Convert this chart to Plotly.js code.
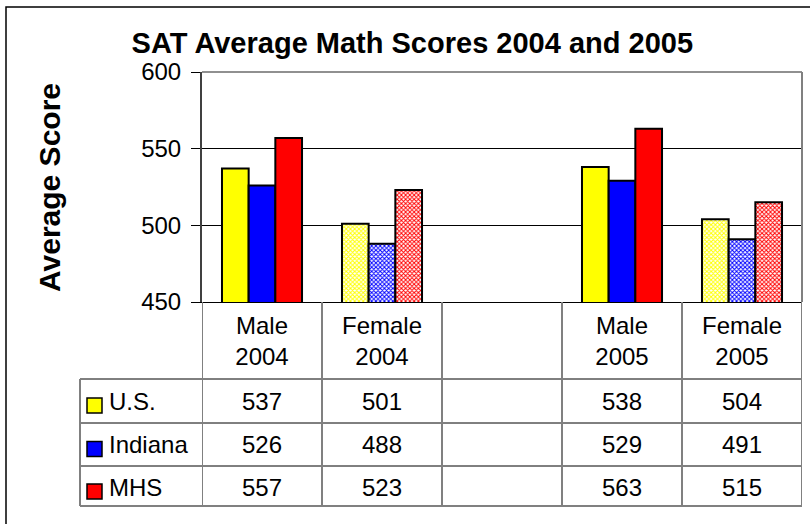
<!DOCTYPE html>
<html>
<head>
<meta charset="utf-8">
<script src="https://cdn.plot.ly/plotly-3.0.1.min.js"></script>
<style>html,body{margin:0;padding:0;background:#fff;}#chart{width:810px;height:524px;}</style>
</head>
<body>
<div id="chart"></div>
<script>
// ---- data ----
var categories = ["Male<br>2004", "Female<br>2004", "", "Male<br>2005", "Female<br>2005"];
var seriesNames = ["U.S.", "Indiana", "MHS"];
var usScores = [537, 501, null, 538, 504];
var indianaScores = [526, 488, null, 529, 491];
var mhsScores = [557, 523, null, 563, 515];
var yTickValues = [450, 500, 550, 600];
var chartTitle = "SAT Average Math Scores 2004 and 2005";
var yAxisTitle = "Average Score";

// ---- styles ----
var seriesColors = ["#FFFF00", "#0000FF", "#FF0000"];
var FONT = "Liberation Sans, Arial, sans-serif";
var W = 810, H = 524;
var L = 202, R = 8, T = 72, B = 222;
var plotW = W - L - R, plotH = H - T - B;
function px2paperX(px) { return (px - L) / plotW; }
function px2paperY(py) { return (H - B - py) / plotH; }

var allSeries = [usScores, indianaScores, mhsScores];
var xIdx = categories.map(function (c, i) { return i; });
var patternShapes = categories.map(function (c) { return c.indexOf("Female") === 0 ? "x" : ""; });

var traces = allSeries.map(function (vals, s) {
  return {
    type: "bar",
    name: seriesNames[s],
    x: xIdx,
    y: vals,
    marker: {
      color: seriesColors[s],
      line: { color: "#000", width: 2 },
      pattern: { shape: patternShapes, fgcolor: seriesColors[s], bgcolor: "#fff", size: 3, solidity: 0.55, fillmode: "replace" }
    },
    hoverinfo: "skip"
  };
});

var shapes = [];
var annotations = [];
// table geometry (pixels)
var rowLines = [379, 423, 466];
var tableBottom = 506;
var tableLeft = 80;
var rowCenters = [401, 444.5, 487];

rowLines.forEach(function (y) {
  shapes.push({ type: "line", xref: "paper", yref: "paper", x0: px2paperX(tableLeft), x1: px2paperX(802), y0: px2paperY(y), y1: px2paperY(y), line: { color: "#000", width: 1 } });
});
shapes.push({ type: "line", xref: "paper", yref: "paper", x0: px2paperX(tableLeft), x1: px2paperX(802), y0: px2paperY(tableBottom), y1: px2paperY(tableBottom), line: { color: "#808080", width: 2 } });
shapes.push({ type: "line", xref: "paper", yref: "paper", x0: px2paperX(tableLeft), x1: px2paperX(tableLeft), y0: px2paperY(rowLines[0]), y1: px2paperY(tableBottom), line: { color: "#808080", width: 2 } });
for (var i = 0; i <= categories.length; i++) {
  shapes.push({ type: "line", xref: "x", yref: "paper", x0: i - 0.5, x1: i - 0.5, y0: 0, y1: px2paperY(tableBottom), line: { color: "#808080", width: 2 } });
}
shapes.push({ type: "line", xref: "paper", yref: "paper", x0: 0, x1: 1, y0: 1, y1: 1, line: { color: "#909090", width: 2 } });
shapes.push({ type: "line", xref: "paper", yref: "paper", x0: 1, x1: 1, y0: 0, y1: 1, line: { color: "#808080", width: 2 } });
shapes.push({ type: "rect", xref: "paper", yref: "paper", x0: px2paperX(6), x1: px2paperX(814), y0: px2paperY(528), y1: px2paperY(7), line: { color: "#000", width: 1.5 }, fillcolor: "rgba(0,0,0,0)" });

seriesNames.forEach(function (name, s) {
  var yc = rowCenters[s];
  shapes.push({ type: "rect", xref: "paper", yref: "paper", x0: px2paperX(87), x1: px2paperX(102), y0: px2paperY(yc - 3), y1: px2paperY(yc + 12), fillcolor: seriesColors[s], line: { color: "#000", width: 1.5 } });
  annotations.push({ xref: "paper", yref: "paper", x: px2paperX(107), y: px2paperY(yc), text: name, showarrow: false, xanchor: "left", yanchor: "middle", font: { family: FONT, size: 24, color: "#000" } });
  allSeries[s].forEach(function (v, i) {
    if (v === null) return;
    annotations.push({ xref: "x", yref: "paper", x: i, y: px2paperY(yc), text: String(v), showarrow: false, xanchor: "center", yanchor: "middle", font: { family: FONT, size: 24, color: "#000" } });
  });
});

// y axis title
annotations.push({ xref: "paper", yref: "paper", x: px2paperX(49), y: px2paperY(188), text: "<b>" + yAxisTitle + "</b>", textangle: -90, showarrow: false, xanchor: "center", yanchor: "middle", font: { family: FONT, size: 30, color: "#000" } });

var layout = {
  width: W, height: H,
  margin: { l: L, r: R, t: T, b: B, pad: 0 },
  paper_bgcolor: "#fff", plot_bgcolor: "#fff",
  showlegend: false,
  barmode: "group", bargap: 0.333, bargroupgap: 0,
  title: { text: "<b>" + chartTitle + "</b>", x: 0.509, xanchor: "center", y: 1 - 43 / H, yanchor: "middle", font: { family: FONT, size: 29, color: "#000" } },
  xaxis: {
    range: [-0.5, categories.length - 0.5],
    tickmode: "array", tickvals: xIdx, ticktext: categories,
    ticks: "", showgrid: false, zeroline: false,
    showline: true, linecolor: "#000", linewidth: 1,
    tickfont: { family: FONT, size: 24, color: "#000" },
    ticklabelstandoff: 2, fixedrange: true
  },
  yaxis: {
    range: [450, 600], tickmode: "array", tickvals: yTickValues,
    ticks: "outside", ticklen: 9, tickcolor: "#000", tickwidth: 1,
    showline: true, linecolor: "#404040", linewidth: 2,
    showgrid: true, gridcolor: "#000", gridwidth: 1, zeroline: false,
    tickfont: { family: FONT, size: 24, color: "#000" },
    ticklabelstandoff: 5,
    fixedrange: true
  },
  shapes: shapes,
  annotations: annotations
};

Plotly.newPlot("chart", traces, layout, { staticPlot: true, displayModeBar: false });
</script>
</body>
</html>
